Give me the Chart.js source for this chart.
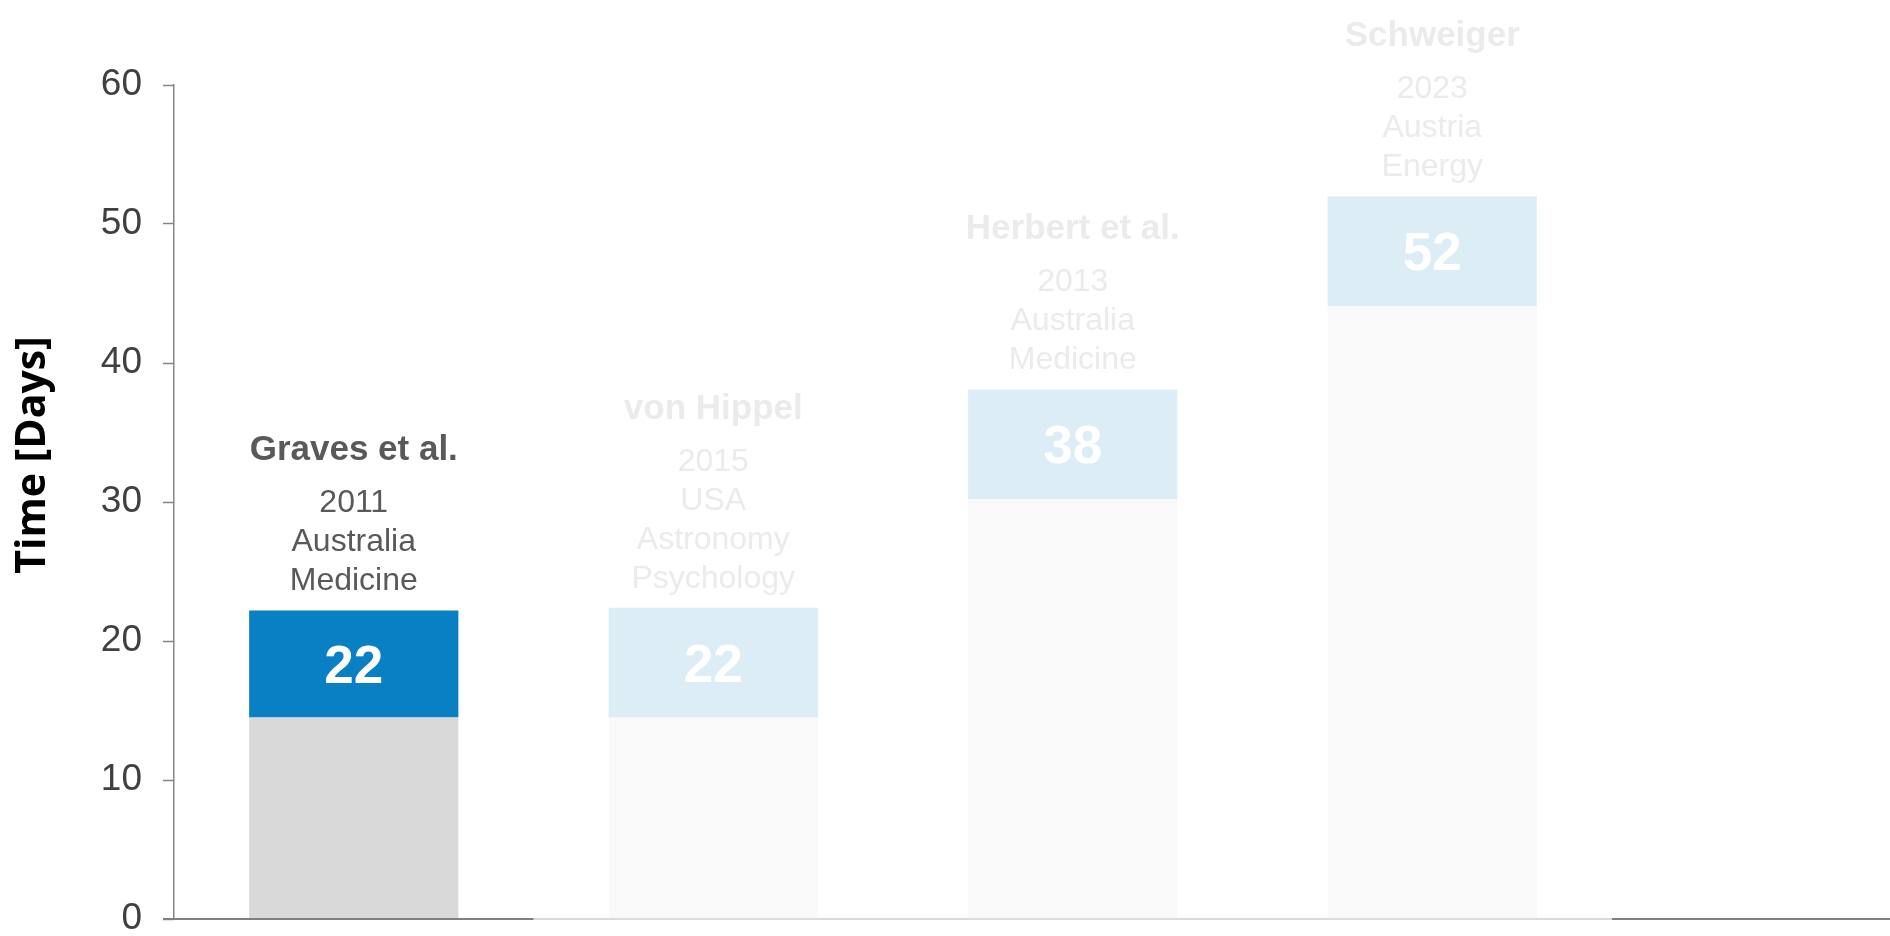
<!DOCTYPE html>
<html>
<head>
<meta charset="utf-8">
<script src="https://cdn.jsdelivr.net/npm/chart.js@4.4.1/dist/chart.umd.min.js"></script>
<style>
  html, body { margin: 0; padding: 0; background: #fff; }
  #wrap { position: relative; width: 1890px; height: 936px; }
</style>
</head>
<body>
<div id="wrap"><canvas id="graph-days"></canvas></div>
<script>
const categories = ['Graves et al.', 'von Hippel', 'Herbert et al.', 'Schweiger'];
const years = ['2011', '2015', '2013', '2023'];
const countries = ['Australia', 'USA', 'Australia', 'Austria'];
const fields = [['Medicine'], ['Astronomy', 'Psychology'], ['Medicine'], ['Energy']];
const days = [22, 22, 38, 52];
const baseDays = [14.5, 14.5, 30.2, 44.1];
const capDays = [7.7, 7.9, 7.9, 7.9];
const yTicks = [0, 10, 20, 30, 40, 50, 60];
const highlight = 0;

(function(){
  const ctx = document.getElementById('graph-days');

  const annotate = {
    id: 'annotate',
    afterDatasetsDraw(chart) {
      const c = chart.ctx;
      const area = chart.chartArea;
      const x = chart.scales.x;
      const y = chart.scales.y;
      c.save();

      // baseline, dark around the highlighted column and beyond the plot
      const split = (x.getPixelForValue(0) + x.getPixelForValue(1)) / 2;
      c.lineWidth = 2;
      c.strokeStyle = '#dadada';
      c.beginPath(); c.moveTo(split, area.bottom); c.lineTo(area.right, area.bottom); c.stroke();
      c.strokeStyle = '#808080';
      c.beginPath(); c.moveTo(area.left - 11, area.bottom); c.lineTo(split, area.bottom); c.stroke();
      c.beginPath(); c.moveTo(area.right, area.bottom); c.lineTo(chart.width, area.bottom); c.stroke();

      c.textAlign = 'center';
      c.textBaseline = 'alphabetic';
      categories.forEach((name, i) => {
        const cx = x.getPixelForValue(i);
        const top = y.getPixelForValue(baseDays[i] + capDays[i]);
        const bottom = y.getPixelForValue(baseDays[i]);
        const textColor = i === highlight ? '#595959' : '#ebebeb';

        c.fillStyle = '#ffffff';
        c.font = 'bold 53px "Liberation Sans", Arial, sans-serif';
        c.fillText(String(days[i]), cx, (top + bottom) / 2 + 19);

        const lines = [years[i], countries[i]].concat(fields[i]);
        c.fillStyle = textColor;
        c.font = '32px "Liberation Sans", Arial, sans-serif';
        let ly = top - 20;
        for (let k = lines.length - 1; k >= 0; k--) {
          c.fillText(lines[k], cx, ly);
          ly -= 39;
        }
        c.font = 'bold 35px "Liberation Sans", Arial, sans-serif';
        c.fillText(name, cx, ly + 39 - 52);
      });

      // y axis title
      c.translate(33, 455);
      c.rotate(-Math.PI / 2);
      c.textBaseline = 'middle';
      c.fillStyle = '#000000';
      c.font = 'bold 41px "Open Sans", sans-serif';
      c.fillText('Time [Days]', 0, 0);
      c.restore();
    }
  };

  new Chart(ctx, {
    type: 'bar',
    data: {
      labels: categories,
      datasets: [{
        label: 'base',
        data: baseDays,
        backgroundColor: categories.map((_, i) => i === highlight ? '#d9d9d9' : '#f9f9f9'),
        barPercentage: 0.582,
        categoryPercentage: 1
      }, {
        label: 'days',
        data: capDays,
        backgroundColor: categories.map((_, i) => i === highlight ? '#0880c3' : '#ddedf6'),
        barPercentage: 0.582,
        categoryPercentage: 1
      }]
    },
    options: {
      responsive: true,
      maintainAspectRatio: false,
      animation: false,
      layout: {
        padding: { left: 0, right: 278, top: 85, bottom: 17 }
      },
      scales: {
        x: {
          display: false,
          stacked: true
        },
        y: {
          stacked: true,
          min: 0,
          max: 60,
          afterBuildTicks: (scale) => { scale.ticks = yTicks.map(v => ({ value: v })); },
          afterFit: (scale) => {
            scale.width = 174;
            scale.paddingTop = 0;
            scale.paddingBottom = 0;
          },
          border: { color: '#868686', width: 1.5 },
          grid: {
            drawOnChartArea: false,
            tickLength: 11,
            tickColor: '#868686',
            tickWidth: 1.5
          },
          ticks: {
            padding: 21,
            color: '#404040',
            font: { family: '"Liberation Sans", Arial, sans-serif', size: 37 }
          }
        }
      },
      plugins: {
        legend: { display: false },
        tooltip: { enabled: false }
      }
    },
    plugins: [annotate]
  });
})();
</script>
</body>
</html>
